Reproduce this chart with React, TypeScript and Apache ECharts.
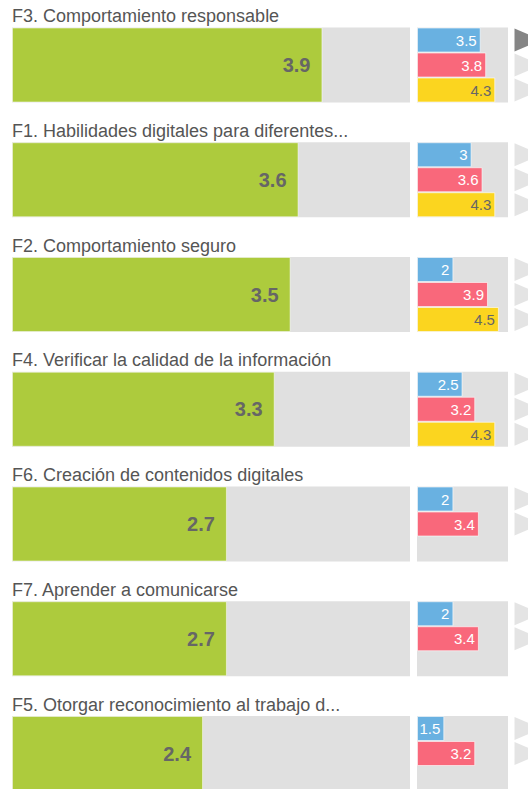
import React, { useEffect, useRef } from "react";
import * as echarts from "echarts";

const categories = [
  "F3. Comportamiento responsable",
  "F1. Habilidades digitales para diferentes...",
  "F2. Comportamiento seguro",
  "F4. Verificar la calidad de la información",
  "F6. Creación de contenidos digitales",
  "F7. Aprender a comunicarse",
  "F5. Otorgar reconocimiento al trabajo d...",
];
const mainValues = [3.9, 3.6, 3.5, 3.3, 2.7, 2.7, 2.4];
const blueValues = [3.5, 3, 2, 2.5, 2, 2, 1.5];
const pinkValues = [3.8, 3.6, 3.9, 3.2, 3.4, 3.4, 3.2];
const yellowValues: (number | null)[] = [4.3, 4.3, 4.5, 4.3, null, null, null];
const scaleMax = 5;
// the highlighted marker: [category index, row index]
const selectedMarker = [0, 0];

const FONT = "'Liberation Sans', Arial, sans-serif";
const BAND = 114.75;
const BLOCK = 75;
const FIRST_TOP = 27.5;
const GRID_TOP = FIRST_TOP - (BAND - BLOCK) / 2;
const GRID_H = BAND * categories.length;

export default function App() {
  const ref = useRef<HTMLDivElement>(null);
  useEffect(() => {
    if (!ref.current) return;
    const chart = echarts.init(ref.current, null, { renderer: "svg" });

    const rows = [blueValues, pinkValues, yellowValues];
    const subColors = ["#69b1e1", "#f9687b", "#fbd51f"];
    const subLabelColors = ["#ffffff", "#ffffff", "#666666"];

    const subSeries = rows.map((vals, r) => ({
      type: "bar",
      xAxisIndex: 1,
      yAxisIndex: 1,
      data: vals,
      barWidth: 25,
      barGap: "0%",
      itemStyle: {
        color: subColors[r],
        borderColor: "rgba(255,255,255,0.6)",
        borderWidth: 1,
      },
      label: {
        show: true,
        position: "insideRight",
        distance: 4,
        fontSize: 15,
        fontFamily: FONT,
        color: subLabelColors[r],
      },
      silent: true,
      z: 2,
    }));

    const triSeries = rows.map((vals, r) => ({
      type: "scatter",
      xAxisIndex: 2,
      yAxisIndex: 3,
      symbol: "triangle",
      symbolSize: [23, 27],
      symbolRotate: -90,
      symbolOffset: [0, (r - 1) * 25],
      clip: false,
      data: vals.map((v, i) =>
        v == null
          ? null
          : {
              value: [1, i],
              itemStyle: {
                color:
                  i === selectedMarker[0] && r === selectedMarker[1]
                    ? "#666666"
                    : "#dddddd",
              },
            }
      ),
      silent: true,
    }));

    const titles = categories.map((c, i) => ({
      type: "text",
      x: 12,
      y: FIRST_TOP + i * BAND - 11.5,
      z: 100,
      style: {
        text: c,
        font: `18px ${FONT}`,
        fill: "#555555",
        verticalAlign: "middle",
      },
      silent: true,
    }));

    chart.setOption({
      animation: false,
      grid: [
        { left: 12, top: GRID_TOP, width: 398, height: GRID_H },
        { left: 417, top: GRID_TOP, width: 91, height: GRID_H },
        { left: 515, top: GRID_TOP, width: 13, height: GRID_H },
      ],
      xAxis: [
        { gridIndex: 0, type: "value", min: 0, max: scaleMax, show: false },
        { gridIndex: 1, type: "value", min: 0, max: scaleMax, show: false },
        { gridIndex: 2, type: "value", min: 0, max: 1, show: false },
      ],
      yAxis: [
        { gridIndex: 0, type: "category", data: categories, inverse: true, show: false },
        { gridIndex: 1, type: "category", data: categories, inverse: true, show: false },
        { gridIndex: 1, type: "category", data: categories, inverse: true, show: false },
        { gridIndex: 2, type: "category", data: categories.map((_, i) => i), inverse: true, show: false },
      ],
      series: [
        {
          type: "bar",
          xAxisIndex: 0,
          yAxisIndex: 0,
          data: mainValues,
          barWidth: BLOCK,
          showBackground: true,
          backgroundStyle: { color: "#e0e0e0" },
          itemStyle: {
            color: "#adcb3d",
            borderColor: "rgba(255,255,255,0.5)",
            borderWidth: 1,
          },
          label: {
            show: true,
            position: "insideRight",
            distance: 12,
            fontSize: 20,
            fontWeight: "bold",
            fontFamily: FONT,
            color: "#666666",
          },
          silent: true,
        },
        {
          type: "bar",
          xAxisIndex: 1,
          yAxisIndex: 2,
          data: categories.map(() => 0),
          barWidth: BLOCK,
          showBackground: true,
          backgroundStyle: { color: "#e0e0e0" },
          itemStyle: { color: "transparent" },
          silent: true,
          z: 1,
        },
        ...subSeries,
        ...triSeries,
      ],
      graphic: titles,
    });
    return () => chart.dispose();
  }, []);
  return (
    <div
      ref={ref}
      style={{ position: "fixed", left: 0, top: 0, width: 528, height: 830, background: "#fff" }}
    />
  );
}
